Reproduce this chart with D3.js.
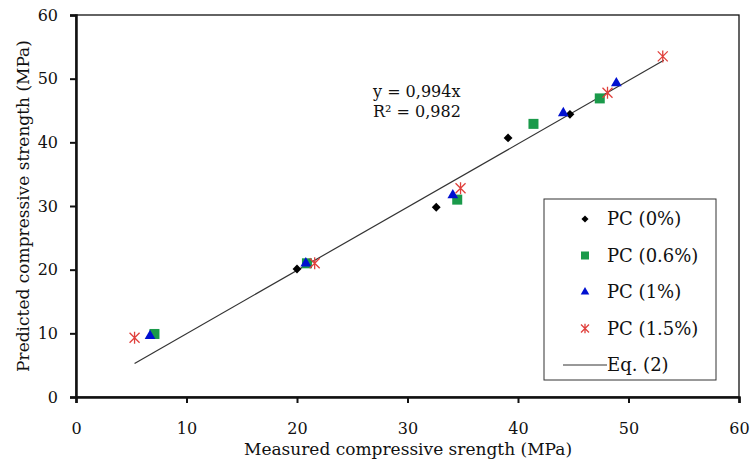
<!DOCTYPE html>
<html>
<head>
<meta charset="utf-8">
<script src="https://cdn.jsdelivr.net/npm/d3@7"></script>
<style>
  body { margin: 0; background: #fff; }
  text { font-family: "DejaVu Serif", "Liberation Serif", serif; fill: #111; }
</style>
</head>
<body>
<div class="chart"></div>
<script>
// measured vs predicted (MPa)
const pc0x = [20.0, 32.6, 39.1, 44.7]
const pc0y = [20.1, 29.8, 40.7, 44.4]
const pc06x = [7.1, 20.9, 34.5, 41.4, 47.4]
const pc06y = [9.9, 21.0, 31.0, 42.9, 46.9]
const pc1x = [6.7, 20.8, 34.1, 44.1, 48.9]
const pc1y = [9.6, 21.0, 31.7, 44.6, 49.3]
const pc15x = [5.3, 21.6, 34.8, 48.1, 53.1]
const pc15y = [9.3, 21.0, 32.8, 47.8, 53.5]
const slope = 0.994
const lineRange = [5.3, 53.2]
const ticks = [0, 10, 20, 30, 40, 50, 60]
const legendLabels = ['PC (0%)', 'PC (0.6%)', 'PC (1%)', 'PC (1.5%)', 'Eq. (2)']

const width = 753
const height = 460
const margin = { left: 76, right: 14, top: 15, bottom: 63 }

const svg = d3.select('.chart').append('svg')
  .attr('width', width)
  .attr('height', height)

const x = d3.scaleLinear().domain([0, 60]).range([margin.left, width - margin.right])
const y = d3.scaleLinear().domain([0, 60]).range([height - margin.bottom, margin.top])

// frame
svg.append('rect')
  .attr('x', x(0)).attr('y', y(60))
  .attr('width', x(60) - x(0)).attr('height', y(0) - y(60))
  .attr('fill', 'none').attr('stroke', '#111').attr('stroke-width', 1.3)

let xAxis = svg.append('g')
  .attr('transform', 'translate(0,' + y(0) + ')')
  .call(d3.axisBottom(x).tickValues(ticks).tickSize(6).tickPadding(20))
let yAxis = svg.append('g')
  .attr('transform', 'translate(' + x(0) + ',0)')
  .call(d3.axisLeft(y).tickValues(ticks).tickSize(6).tickPadding(12))

;[xAxis, yAxis].forEach((g) => {
  g.select('.domain').attr('stroke', '#111').attr('stroke-width', 2.5)
  g.selectAll('.tick line').attr('stroke', '#111').attr('stroke-width', 2)
  g.selectAll('.tick text').style('font-size', '16px').attr('fill', '#222')
    .style('font-family', '"DejaVu Serif", serif')
})

svg.append('text')
  .attr('x', 408).attr('y', 455)
  .attr('text-anchor', 'middle')
  .style('font-size', '17px')
  .text('Measured compressive srength (MPa)')

svg.append('text')
  .attr('transform', 'translate(29,' + ((y(0) + y(60)) / 2) + ') rotate(-90)')
  .attr('text-anchor', 'middle')
  .style('font-size', '17px')
  .text('Predicted compressive strength (MPa)')

// fitted line
svg.append('line')
  .attr('x1', x(lineRange[0])).attr('y1', y(slope * lineRange[0]))
  .attr('x2', x(lineRange[1])).attr('y2', y(slope * lineRange[1]))
  .attr('stroke', '#333').attr('stroke-width', 1.2)

svg.append('text').attr('x', 373).attr('y', 97).style('font-size', '16px').text('y = 0,994x')
svg.append('text').attr('x', 373).attr('y', 117).style('font-size', '16px').text('R² = 0,982')

let drawMarker = (g, type, s) => {
  if (type === 'diamond') {
    g.append('path').attr('d', d3.symbol(d3.symbolDiamond2, s * s * 0.5)()).attr('fill', '#000')
  } else if (type === 'square') {
    g.append('rect').attr('x', -s / 2).attr('y', -s / 2).attr('width', s).attr('height', s).attr('fill', '#1a9a4a')
  } else if (type === 'triangle') {
    g.append('path').attr('d', d3.symbol(d3.symbolTriangle, s * s * 0.5)()).attr('fill', '#0010d0')
  } else {
    let r = s / 2
    g.append('path')
      .attr('d', 'M' + -r + ',' + -r + 'L' + r + ',' + r + 'M' + r + ',' + -r + 'L' + -r + ',' + r + 'M0,' + -r * 1.2 + 'L0,' + r * 1.2)
      .attr('stroke', '#e0403c').attr('stroke-width', 1.3).attr('fill', 'none')
  }
}

const series = [
  { xs: pc0x, ys: pc0y, type: 'diamond' },
  { xs: pc06x, ys: pc06y, type: 'square' },
  { xs: pc1x, ys: pc1y, type: 'triangle' },
  { xs: pc15x, ys: pc15y, type: 'star' }
]

series.forEach((ser) => {
  svg.append('g').selectAll('g')
    .data(ser.xs.map((v, i) => [v, ser.ys[i]]))
    .enter().append('g')
    .attr('transform', (d) => 'translate(' + x(d[0]) + ',' + y(d[1]) + ')')
    .each(function () { drawMarker(d3.select(this), ser.type, 10) })
})

// legend
let legend = svg.append('g').attr('id', 'legend')
legend.append('rect')
  .attr('x', 544).attr('y', 199).attr('width', 172).attr('height', 181)
  .attr('fill', '#fff').attr('stroke', '#333').attr('stroke-width', 1)

let item = legend.selectAll('.legend-item')
  .data(legendLabels)
  .enter().append('g')
  .attr('class', 'legend-item')
  .attr('transform', (d, i) => 'translate(0,' + (219 + i * 36.5) + ')')

item.each(function (d, i) {
  let g = d3.select(this)
  if (i < 4) {
    let m = g.append('g').attr('transform', 'translate(585,0)')
    drawMarker(m, series[i].type, 8)
  } else {
    g.append('line').attr('x1', 563).attr('x2', 607).attr('y1', 0).attr('y2', 0)
      .attr('stroke', '#333').attr('stroke-width', 1)
  }
})

item.append('text')
  .attr('x', 607)
  .attr('y', 6)
  .style('font-size', '18px')
  .text((d) => d)
</script>
</body>
</html>
